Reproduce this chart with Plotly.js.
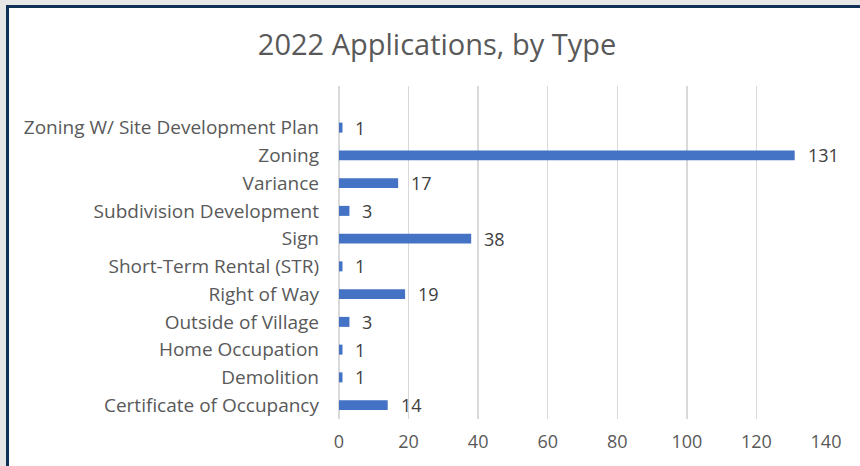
<!DOCTYPE html>
<html>
<head>
<meta charset="utf-8">
<script src="https://cdn.plot.ly/plotly-3.0.1.min.js"></script>
<style>
  html, body { margin: 0; padding: 0; width: 860px; height: 466px; overflow: hidden; background: #e7e7e7; }
  #frame { position: absolute; left: 6px; top: 5px; width: 851px; height: 458px;
           border-left: 3px solid #0f3158; border-top: 3px solid #0f3158; background: #ffffff; }
  #chart { width: 851px; height: 458px; }
</style>
</head>
<body>
<div id="frame"><div id="chart"></div></div>
<script>
const categories = [
  "Certificate of Occupancy",
  "Demolition",
  "Home Occupation",
  "Outside of Village",
  "Right of Way",
  "Short-Term Rental (STR)",
  "Sign",
  "Subdivision Development",
  "Variance",
  "Zoning",
  "Zoning W/ Site Development Plan"
];
const counts = [14, 1, 1, 3, 19, 1, 38, 3, 17, 131, 1];
const xTicks = [0, 20, 40, 60, 80, 100, 120, 140];
const chartTitle = "2022 Applications, by Type";

const FONT = "'Open Sans', 'Noto Sans', sans-serif";

const trace = {
  type: "bar",
  orientation: "h",
  x: counts,
  y: categories,
  marker: { color: "#4472C4", line: { width: 0 } },
  hoverinfo: "x+y"
};

const annotations = categories.map((c, i) => ({
  x: counts[i], y: c, xref: "x", yref: "y",
  text: String(counts[i]), showarrow: false,
  xanchor: "left", yanchor: "middle", xshift: 11,
  font: { family: FONT, size: 18, color: "#404040" }
}));

const layout = {
  width: 851, height: 458,
  margin: { l: 330, r: 34, t: 78, b: 47 },
  paper_bgcolor: "#ffffff",
  plot_bgcolor: "#ffffff",
  showlegend: false,
  bargap: 0.64,
  title: {
    text: chartTitle,
    font: { family: FONT, size: 29, color: "#595959" },
    x: 0.503, xanchor: "center", y: 0.92, yanchor: "middle"
  },
  xaxis: {
    range: [0, 140],
    tickvals: xTicks,
    ticktext: xTicks.map(String),
    showgrid: true, gridcolor: "#d9d9d9", gridwidth: 1.5,
    zeroline: true, zerolinecolor: "#d9d9d9", zerolinewidth: 1.5,
    showline: false, ticks: "",
    tickfont: { family: FONT, size: 18, color: "#595959" },
    ticklabelstandoff: 10,
    fixedrange: true
  },
  yaxis: {
    type: "category",
    categoryorder: "array",
    categoryarray: categories,
    range: [-0.5, 11.5],
    showgrid: false, zeroline: false, showline: false, ticks: "",
    tickfont: { family: FONT, size: 19, color: "#595959" },
    ticklabelstandoff: 19,
    fixedrange: true
  },
  annotations: annotations
};

Plotly.newPlot("chart", [trace], layout, { displayModeBar: false, staticPlot: true });
</script>
</body>
</html>
